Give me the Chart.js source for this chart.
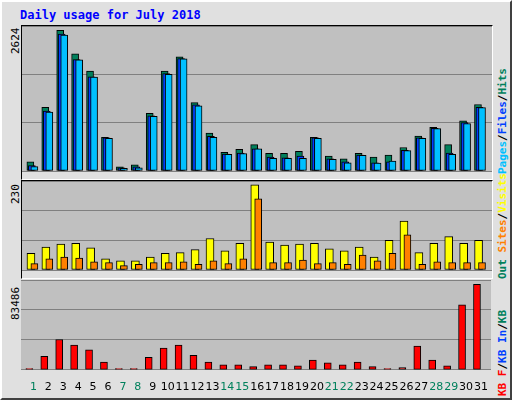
<!DOCTYPE html>
<html><head><meta charset="utf-8">
<script src="https://cdn.jsdelivr.net/npm/chart.js@4"></script>
<style>
body{margin:0;}
#frame{position:relative;width:508px;height:396px;background:#e0e0e0;border:2px solid;border-color:#ffffff #404040 #404040 #ffffff;overflow:hidden;font-family:"DejaVu Sans Mono",monospace;}
.lbl{position:absolute;white-space:pre;font-weight:bold;font-size:11px;line-height:12px;transform:rotate(-90deg);transform-origin:0 0;}
.cv{position:absolute;}
#title{position:absolute;left:18px;top:6px;color:#0000ff;font-weight:bold;font-size:12px;}
</style></head><body>
<div id="frame">
<div id="title">Daily usage for July 2018</div>
<div class="lbl" style="left:8px;top:52px;color:#000;font-weight:normal">2624</div>
<div class="lbl" style="left:8px;top:202px;color:#000;font-weight:normal">230</div>
<div class="lbl" style="left:8px;top:318px;color:#000;font-weight:normal">83486</div>
<div class="lbl" style="left:495px;top:172px"><span style="color:#00c0ff">Pages</span><span style="color:#000">/</span><span style="color:#0040ff">Files</span><span style="color:#000">/</span><span style="color:#00805c">Hits</span></div>
<div class="lbl" style="left:495px;top:277px"><span style="color:#00805c">Out</span> <span style="color:#ff8000">Sites</span><span style="color:#000">/</span><span style="color:#ffff00">Visits</span></div>
<div class="lbl" style="left:495px;top:394px"><span style="color:#ff0000">KB F</span><span style="color:#000">/</span><span style="color:#0040ff">KB In</span><span style="color:#000">/</span><span style="color:#00805c">KB</span></div>
<div class="cv" style="left:19px;top:23px;width:470px;height:153px;border:1px solid #000;border-right-color:#fff;border-bottom-color:#fff;"><canvas id="c1"></canvas></div>
<div class="cv" style="left:19px;top:178px;width:470px;height:97px;border:1px solid #000;border-right-color:#fff;border-bottom-color:#fff;"><canvas id="c2"></canvas></div>
<div class="cv" style="left:19px;top:278px;width:470px;height:117px;"><canvas id="c3"></canvas></div>
</div>
<script>
const days=[1,2,3,4,5,6,7,8,9,10,11,12,13,14,15,16,17,18,19,20,21,22,23,24,25,26,27,28,29,30,31];
const weekend=[1,7,8,14,15,21,22,28,29];
const hits=[172,1187,2624,2185,1864,629,77,113,1075,1864,2131,1276,706,350,404,493,332,332,368,629,279,226,332,261,297,439,653,813,493,938,1241];
const files=[101,1117,2554,2079,1758,618,59,77,1028,1818,2097,1236,647,315,333,416,261,244,279,618,226,172,297,154,172,386,618,796,333,903,1188];
const pages=[83,1099,2536,2073,1752,612,48,59,1022,1806,2091,1218,630,309,327,416,238,238,238,612,220,154,291,149,184,380,612,790,309,885,1182];
const visits=[45,62,70,72,60,30,25,25,35,45,47,55,85,52,72,230,75,67,70,72,57,52,62,35,80,132,47,72,90,72,80];
const sites=[17,30,35,32,22,20,12,15,20,20,22,15,25,17,30,192,20,20,27,17,20,15,40,25,45,95,15,22,20,20,20];
const kbytes=[1219,13102,29556,24071,19501,7618,1219,1219,12188,21329,24071,14016,7618,4875,4875,3047,4875,4875,3961,9446,6703,4875,7618,3047,1219,2133,23157,9446,3961,63378,83486];
const xmin=0.17,xmax=31.67;
function pts(arr,off){return arr.map((v,i)=>({x:days[i]+off,y:v}));}
function ds(arr,off,color,w,ord){return {data:pts(arr,off),backgroundColor:color,borderColor:'#000',borderWidth:1,barThickness:w,grouped:false,borderSkipped:false,order:ord};}
const bg={id:'bg',beforeDraw(c){const a=c.chartArea,x=c.ctx;x.save();x.fillStyle='#c0c0c0';x.fillRect(a.left,a.top,a.width,a.height);x.restore();}};
function make(id,datasets,ymax,showX){
 return new Chart(document.getElementById(id),{type:'bar',data:{datasets},plugins:[bg],
 options:{responsive:true,maintainAspectRatio:false,animation:false,
 layout:{padding:0},
 plugins:{legend:{display:false},tooltip:{enabled:false}},
 scales:{x:{type:'linear',min:xmin,max:xmax,offset:false,grid:{display:false},border:{display:false},
   afterBuildTicks(s){s.ticks=days.map(d=>({value:d}));},
   ticks:{display:showX,autoSkip:false,maxRotation:0,padding:3,font:{family:'DejaVu Sans',size:11},
     color:(c)=>weekend.includes(c.tick.value)?'#00805c':'#000',callback:v=>String(v)}},
  y:{min:0,max:ymax,ticks:{display:false,stepSize:ymax/3},grid:{color:'#808080',lineWidth:1,drawTicks:false},border:{display:false}}}}});
}
make('c1',[ds(hits,-0.27,'#00805c',7,3),ds(files,-0.17,'#0040ff',7,2),ds(pages,0,'#00c0ff',7,1)],2706,false);
make('c2',[ds(visits,-0.23,'#ffff00',8,2),ds(sites,0,'#ff8000',7,1)],240,false);
make('c3',[ds(kbytes,-0.27,'#ff0000',7,1)],87700,true);
</script>
</body></html>
